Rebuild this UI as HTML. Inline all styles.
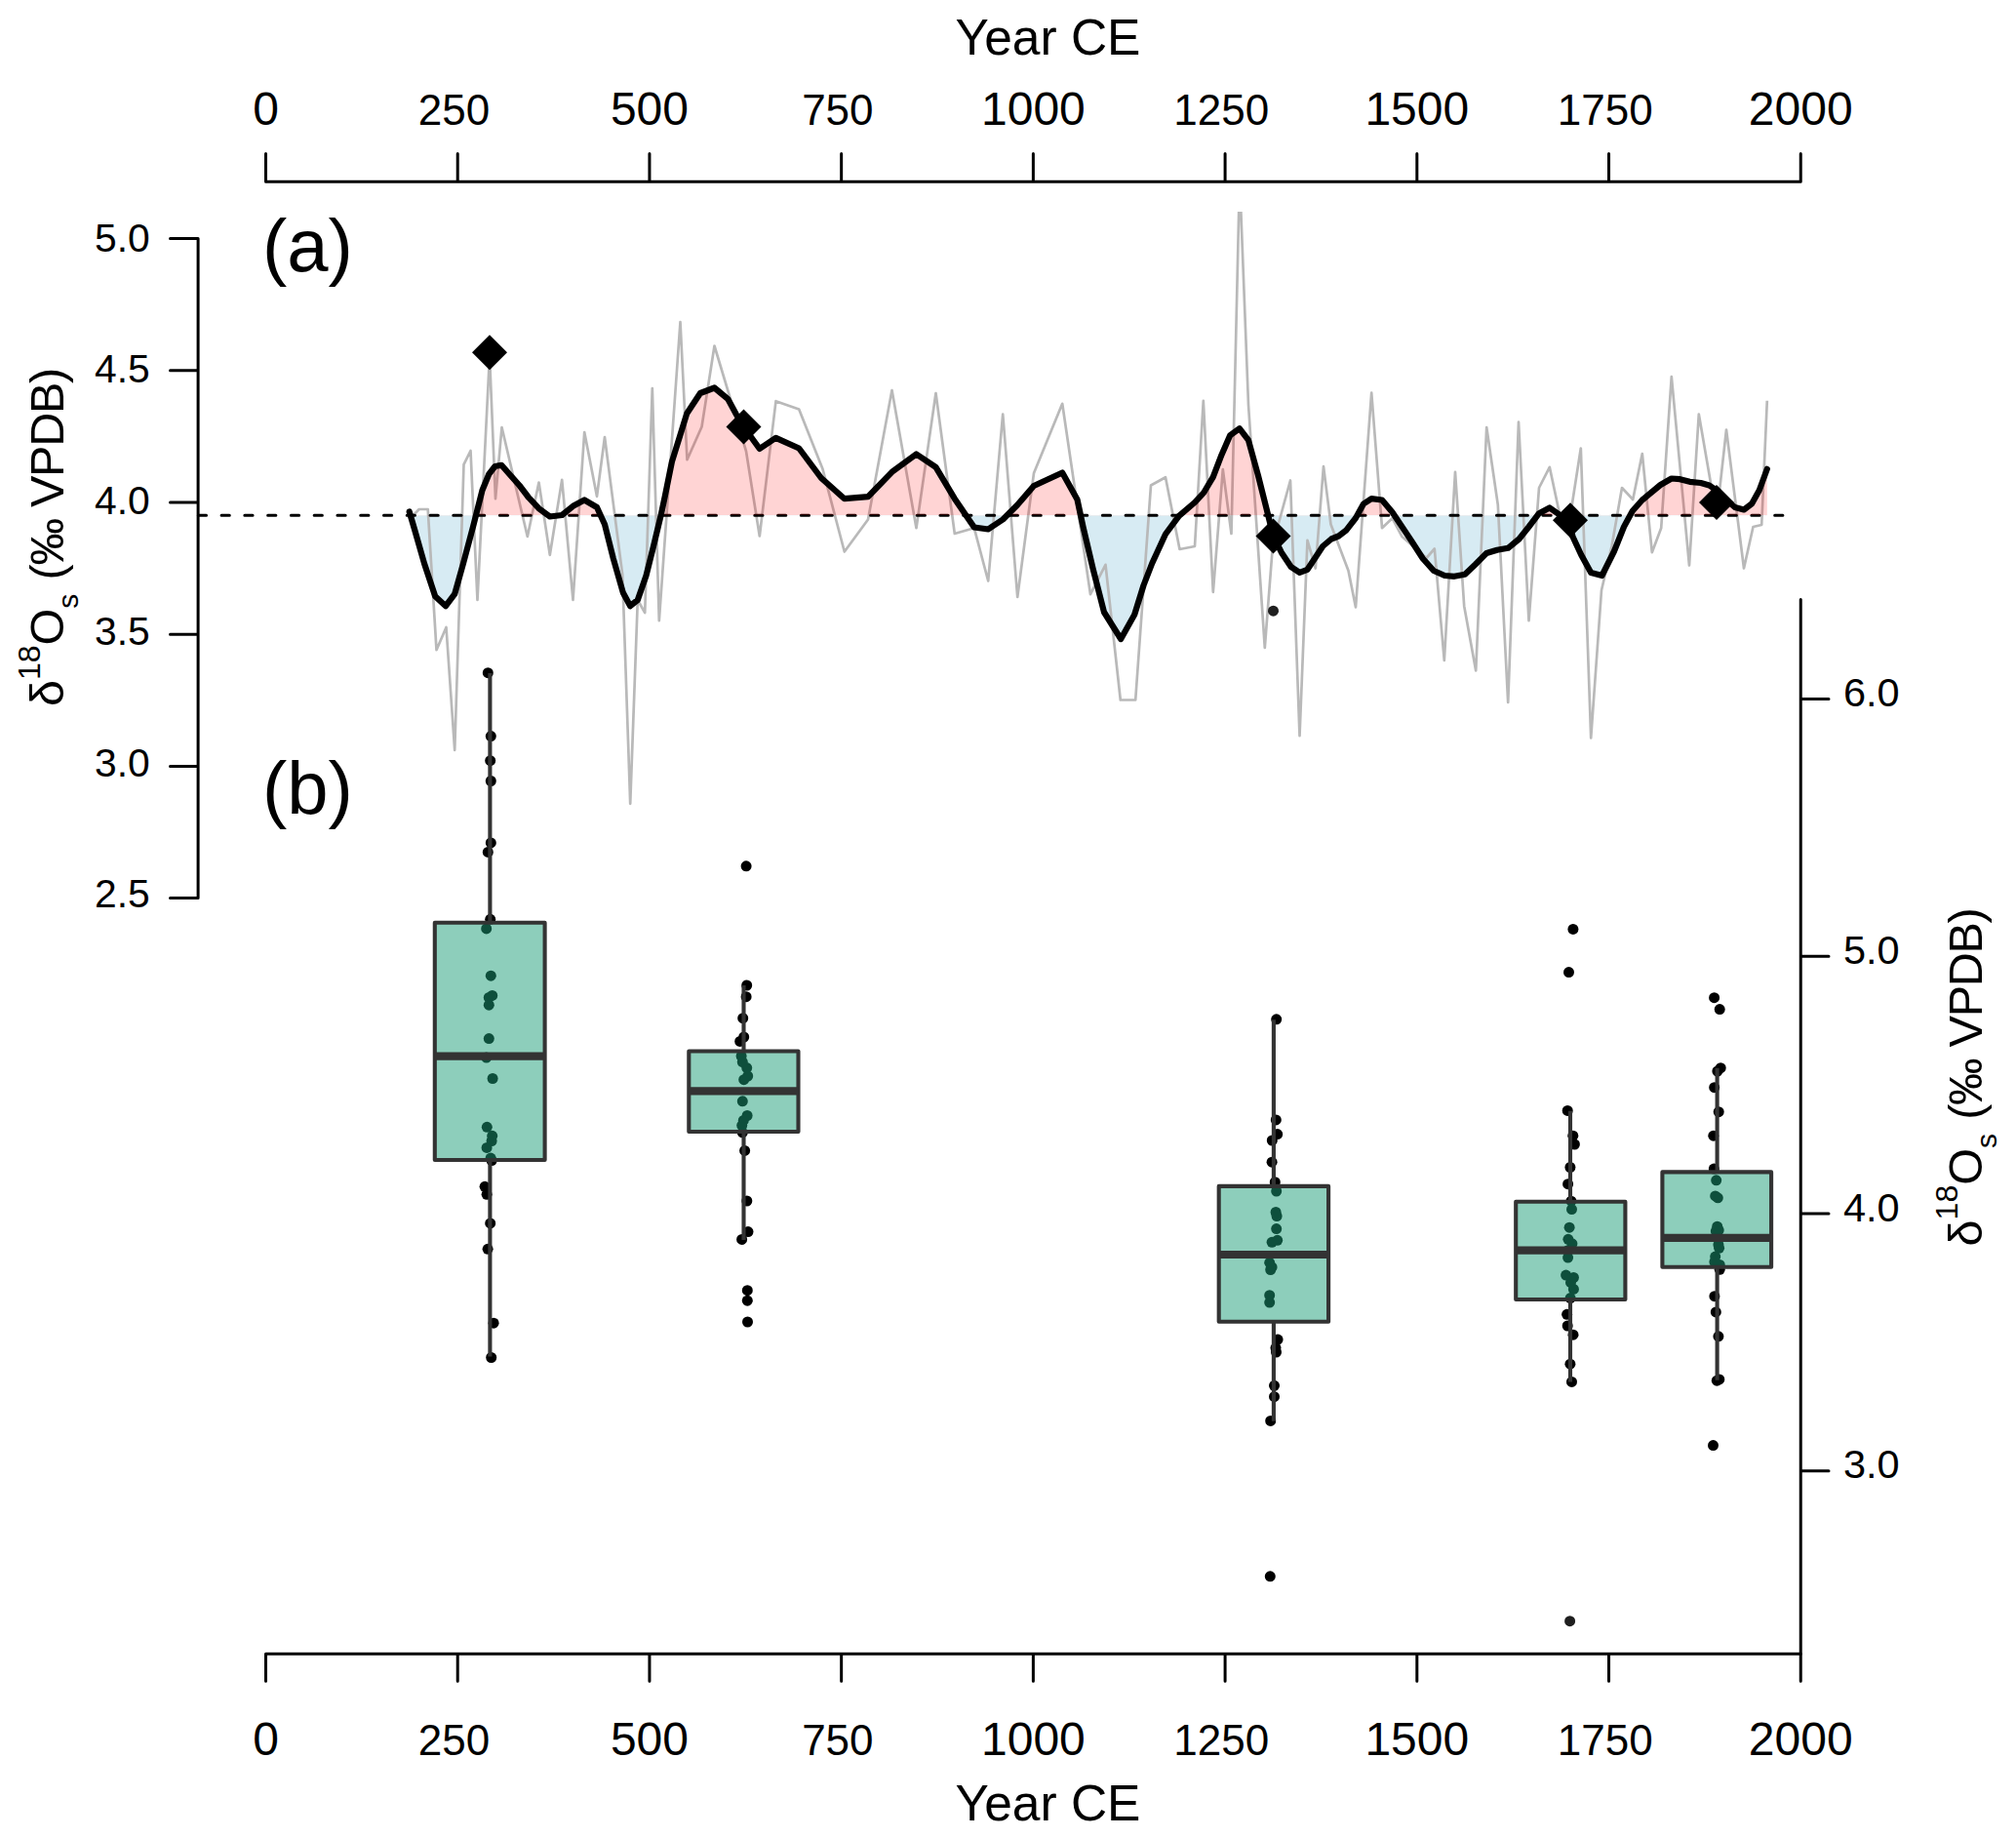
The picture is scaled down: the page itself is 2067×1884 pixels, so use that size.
<!DOCTYPE html>
<html lang="en"><head><meta charset="utf-8"><title>δ18O record and box plots</title>
<style>html,body{margin:0;padding:0;background:#fff}body{width:2067px;height:1884px;overflow:hidden}svg{display:block}</style>
</head><body>
<svg width="2067" height="1884" viewBox="0 0 2067 1884" font-family='"Liberation Sans", Arial, Helvetica, sans-serif' fill="#000">
<rect width="2067" height="1884" fill="#fff"/>
<defs><clipPath id="cu"><rect x="0" y="0" width="2067" height="528.25"/></clipPath><clipPath id="cd"><rect x="0" y="528.25" width="2067" height="400"/></clipPath><clipPath id="cg"><rect x="0" y="217" width="2067" height="700"/></clipPath></defs><polygon points="419.7,528.25 419.7,524.5 425.0,542.5 435.0,577.5 446.2,611.2 457.0,621.2 466.2,608.8 475.0,577.5 485.0,540.0 494.5,502.5 501.2,486.2 507.5,478.0 514.2,476.8 522.5,486.2 532.5,497.5 542.0,510.0 552.5,521.2 563.8,529.5 576.2,528.0 587.5,518.8 599.2,512.5 612.0,520.0 620.0,537.5 628.8,572.5 638.8,607.5 646.2,621.2 653.8,615.0 662.5,590.0 670.0,560.0 677.6,528.3 682.2,506.7 688.9,473.3 697.2,446.7 704.3,423.7 718.0,403.0 732.5,397.5 746.2,408.8 755.0,425.0 762.5,437.5 778.8,460.0 795.5,448.8 819.2,459.5 842.0,490.0 865.8,511.2 890.0,509.2 914.5,483.8 939.5,465.5 959.5,478.8 978.8,511.2 998.8,540.5 1013.2,542.5 1028.2,532.5 1043.2,517.5 1060.0,498.0 1089.2,484.5 1104.5,512.0 1110.5,540.0 1120.5,582.5 1132.0,627.5 1149.2,655.0 1163.2,630.0 1172.5,600.0 1181.2,577.5 1195.0,547.5 1208.8,528.8 1225.0,515.0 1234.2,505.0 1243.8,488.8 1252.5,466.2 1261.2,446.2 1270.8,439.2 1280.0,451.2 1290.0,487.5 1298.8,522.5 1305.5,549.5 1313.8,566.2 1323.8,581.2 1332.5,586.8 1340.5,583.8 1348.8,571.2 1356.2,560.0 1365.0,552.5 1372.5,549.5 1380.0,543.8 1390.0,531.0 1398.0,516.5 1406.2,511.2 1417.0,512.5 1427.5,525.0 1437.5,540.0 1447.5,555.0 1458.8,572.5 1470.0,585.0 1481.2,590.0 1491.2,590.8 1502.0,588.8 1512.5,578.8 1524.2,567.0 1535.0,563.8 1546.2,561.8 1557.5,552.5 1567.5,540.0 1578.0,526.2 1588.8,520.5 1598.8,527.5 1610.0,540.0 1612.5,550.0 1621.2,568.8 1631.2,587.0 1642.5,590.0 1655.0,565.0 1665.0,540.0 1673.8,523.8 1683.8,512.5 1702.5,497.0 1713.8,490.5 1722.5,491.2 1732.5,493.8 1743.8,495.0 1752.5,497.5 1760.0,502.5 1770.0,512.5 1778.8,520.0 1788.0,522.5 1796.2,516.2 1803.8,502.5 1811.8,480.8 1811.8,528.25" fill="#d7ebf3" clip-path="url(#cd)"/>
<polyline fill="none" stroke="#b9b9b9" stroke-width="2.7" stroke-linejoin="round" clip-path="url(#cg)" points="423.0,529.0 429.7,522.0 438.7,522.0 447.5,666.2 457.5,643.0 466.2,768.8 475.5,476.2 482.5,462.0 489.5,615.0 502.0,365.0 508.0,511.2 514.5,438.0 540.8,550.0 552.5,494.5 563.8,568.8 576.2,491.8 587.5,615.0 599.2,443.0 612.0,508.8 620.0,448.0 638.2,589.0 646.2,823.8 653.8,615.0 661.2,628.0 668.8,398.0 675.8,636.2 697.5,330.0 704.5,471.2 719.5,437.5 732.5,354.5 765.0,462.5 778.8,549.5 795.5,411.2 819.2,419.5 843.5,480.8 865.8,565.5 890.0,532.5 914.5,400.0 939.5,541.2 959.5,403.0 978.8,547.0 998.8,541.2 1013.2,595.5 1028.2,424.5 1043.2,612.0 1060.0,485.0 1089.2,413.8 1118.0,609.2 1133.5,578.8 1148.8,717.5 1164.2,717.5 1180.0,497.5 1195.0,489.2 1209.5,563.0 1225.0,560.0 1233.8,410.8 1243.8,606.8 1253.8,481.2 1262.5,547.0 1271.0,182.0 1280.0,415.0 1296.8,663.8 1305.0,558.0 1323.0,492.5 1332.5,754.2 1340.5,553.8 1348.8,582.5 1357.0,478.2 1364.5,537.5 1382.5,585.0 1390.0,622.5 1406.2,402.5 1417.0,541.2 1427.5,531.2 1437.5,550.0 1462.5,572.0 1470.8,562.5 1480.8,677.0 1492.0,483.8 1501.2,621.2 1513.2,687.5 1524.2,438.0 1535.8,517.5 1546.2,720.0 1557.0,432.5 1567.5,636.2 1578.0,500.0 1588.8,478.8 1599.7,530.0 1609.3,533.3 1620.8,459.5 1631.2,756.5 1642.0,605.0 1652.5,560.0 1663.0,500.0 1674.2,512.0 1683.8,465.0 1693.8,566.2 1703.2,541.2 1713.8,386.2 1732.0,579.5 1741.8,424.5 1760.0,530.0 1770.0,440.5 1788.0,582.5 1797.5,540.0 1806.2,538.0 1811.8,410.8"/>
<line x1="203.4" y1="528.25" x2="1830" y2="528.25" stroke="#000" stroke-width="3.2" stroke-linecap="round" stroke-dasharray="8.05 15.72"/>
<polygon points="419.7,528.25 419.7,524.5 425.0,542.5 435.0,577.5 446.2,611.2 457.0,621.2 466.2,608.8 475.0,577.5 485.0,540.0 494.5,502.5 501.2,486.2 507.5,478.0 514.2,476.8 522.5,486.2 532.5,497.5 542.0,510.0 552.5,521.2 563.8,529.5 576.2,528.0 587.5,518.8 599.2,512.5 612.0,520.0 620.0,537.5 628.8,572.5 638.8,607.5 646.2,621.2 653.8,615.0 662.5,590.0 670.0,560.0 677.6,528.3 682.2,506.7 688.9,473.3 697.2,446.7 704.3,423.7 718.0,403.0 732.5,397.5 746.2,408.8 755.0,425.0 762.5,437.5 778.8,460.0 795.5,448.8 819.2,459.5 842.0,490.0 865.8,511.2 890.0,509.2 914.5,483.8 939.5,465.5 959.5,478.8 978.8,511.2 998.8,540.5 1013.2,542.5 1028.2,532.5 1043.2,517.5 1060.0,498.0 1089.2,484.5 1104.5,512.0 1110.5,540.0 1120.5,582.5 1132.0,627.5 1149.2,655.0 1163.2,630.0 1172.5,600.0 1181.2,577.5 1195.0,547.5 1208.8,528.8 1225.0,515.0 1234.2,505.0 1243.8,488.8 1252.5,466.2 1261.2,446.2 1270.8,439.2 1280.0,451.2 1290.0,487.5 1298.8,522.5 1305.5,549.5 1313.8,566.2 1323.8,581.2 1332.5,586.8 1340.5,583.8 1348.8,571.2 1356.2,560.0 1365.0,552.5 1372.5,549.5 1380.0,543.8 1390.0,531.0 1398.0,516.5 1406.2,511.2 1417.0,512.5 1427.5,525.0 1437.5,540.0 1447.5,555.0 1458.8,572.5 1470.0,585.0 1481.2,590.0 1491.2,590.8 1502.0,588.8 1512.5,578.8 1524.2,567.0 1535.0,563.8 1546.2,561.8 1557.5,552.5 1567.5,540.0 1578.0,526.2 1588.8,520.5 1598.8,527.5 1610.0,540.0 1612.5,550.0 1621.2,568.8 1631.2,587.0 1642.5,590.0 1655.0,565.0 1665.0,540.0 1673.8,523.8 1683.8,512.5 1702.5,497.0 1713.8,490.5 1722.5,491.2 1732.5,493.8 1743.8,495.0 1752.5,497.5 1760.0,502.5 1770.0,512.5 1778.8,520.0 1788.0,522.5 1796.2,516.2 1803.8,502.5 1811.8,480.8 1811.8,528.25" fill="rgba(255,0,0,0.17)" clip-path="url(#cu)"/>
<polyline fill="none" stroke="#000" stroke-width="6.2" stroke-linejoin="round" stroke-linecap="round" points="419.7,524.5 425.0,542.5 435.0,577.5 446.2,611.2 457.0,621.2 466.2,608.8 475.0,577.5 485.0,540.0 494.5,502.5 501.2,486.2 507.5,478.0 514.2,476.8 522.5,486.2 532.5,497.5 542.0,510.0 552.5,521.2 563.8,529.5 576.2,528.0 587.5,518.8 599.2,512.5 612.0,520.0 620.0,537.5 628.8,572.5 638.8,607.5 646.2,621.2 653.8,615.0 662.5,590.0 670.0,560.0 677.6,528.3 682.2,506.7 688.9,473.3 697.2,446.7 704.3,423.7 718.0,403.0 732.5,397.5 746.2,408.8 755.0,425.0 762.5,437.5 778.8,460.0 795.5,448.8 819.2,459.5 842.0,490.0 865.8,511.2 890.0,509.2 914.5,483.8 939.5,465.5 959.5,478.8 978.8,511.2 998.8,540.5 1013.2,542.5 1028.2,532.5 1043.2,517.5 1060.0,498.0 1089.2,484.5 1104.5,512.0 1110.5,540.0 1120.5,582.5 1132.0,627.5 1149.2,655.0 1163.2,630.0 1172.5,600.0 1181.2,577.5 1195.0,547.5 1208.8,528.8 1225.0,515.0 1234.2,505.0 1243.8,488.8 1252.5,466.2 1261.2,446.2 1270.8,439.2 1280.0,451.2 1290.0,487.5 1298.8,522.5 1305.5,549.5 1313.8,566.2 1323.8,581.2 1332.5,586.8 1340.5,583.8 1348.8,571.2 1356.2,560.0 1365.0,552.5 1372.5,549.5 1380.0,543.8 1390.0,531.0 1398.0,516.5 1406.2,511.2 1417.0,512.5 1427.5,525.0 1437.5,540.0 1447.5,555.0 1458.8,572.5 1470.0,585.0 1481.2,590.0 1491.2,590.8 1502.0,588.8 1512.5,578.8 1524.2,567.0 1535.0,563.8 1546.2,561.8 1557.5,552.5 1567.5,540.0 1578.0,526.2 1588.8,520.5 1598.8,527.5 1610.0,540.0 1612.5,550.0 1621.2,568.8 1631.2,587.0 1642.5,590.0 1655.0,565.0 1665.0,540.0 1673.8,523.8 1683.8,512.5 1702.5,497.0 1713.8,490.5 1722.5,491.2 1732.5,493.8 1743.8,495.0 1752.5,497.5 1760.0,502.5 1770.0,512.5 1778.8,520.0 1788.0,522.5 1796.2,516.2 1803.8,502.5 1811.8,480.8"/>
<g fill="#000">
<circle cx="500.3" cy="689.7" r="5.5"/>
<circle cx="503.3" cy="754.6" r="5.5"/>
<circle cx="502.7" cy="779.7" r="5.5"/>
<circle cx="503.3" cy="800.5" r="5.5"/>
<circle cx="503.3" cy="863.9" r="5.5"/>
<circle cx="500.3" cy="873.4" r="5.5"/>
<circle cx="502.7" cy="942.3" r="5.5"/>
<circle cx="498.7" cy="951.9" r="5.5"/>
<circle cx="503.3" cy="1000.2" r="5.5"/>
<circle cx="504.7" cy="1020.4" r="5.5"/>
<circle cx="501.3" cy="1022.4" r="5.5"/>
<circle cx="501.3" cy="1030.2" r="5.5"/>
<circle cx="501.3" cy="1064.6" r="5.5"/>
<circle cx="498.7" cy="1084.0" r="5.5"/>
<circle cx="505.1" cy="1105.5" r="5.5"/>
<circle cx="499.3" cy="1155.3" r="5.5"/>
<circle cx="504.7" cy="1164.3" r="5.5"/>
<circle cx="504.1" cy="1169.5" r="5.5"/>
<circle cx="499.1" cy="1176.4" r="5.5"/>
<circle cx="503.1" cy="1187.1" r="5.5"/>
<circle cx="504.1" cy="1189.5" r="5.5"/>
<circle cx="497.1" cy="1216.3" r="5.5"/>
<circle cx="499.1" cy="1224.3" r="5.5"/>
<circle cx="502.7" cy="1253.9" r="5.5"/>
<circle cx="500.1" cy="1280.3" r="5.5"/>
<circle cx="506.1" cy="1356.2" r="5.5"/>
<circle cx="503.7" cy="1391.5" r="5.5"/>
<circle cx="765.1" cy="887.8" r="5.5"/>
<circle cx="765.7" cy="1010.0" r="5.5"/>
<circle cx="765.1" cy="1021.7" r="5.5"/>
<circle cx="761.7" cy="1043.7" r="5.5"/>
<circle cx="762.7" cy="1063.0" r="5.5"/>
<circle cx="758.7" cy="1067.4" r="5.5"/>
<circle cx="760.1" cy="1082.5" r="5.5"/>
<circle cx="761.3" cy="1088.6" r="5.5"/>
<circle cx="765.7" cy="1094.6" r="5.5"/>
<circle cx="766.7" cy="1103.0" r="5.5"/>
<circle cx="762.7" cy="1106.7" r="5.5"/>
<circle cx="761.3" cy="1128.8" r="5.5"/>
<circle cx="766.1" cy="1143.5" r="5.5"/>
<circle cx="762.3" cy="1148.4" r="5.5"/>
<circle cx="760.7" cy="1153.6" r="5.5"/>
<circle cx="761.3" cy="1160.8" r="5.5"/>
<circle cx="763.6" cy="1179.4" r="5.5"/>
<circle cx="765.8" cy="1231.0" r="5.5"/>
<circle cx="767.0" cy="1262.6" r="5.5"/>
<circle cx="760.6" cy="1270.4" r="5.5"/>
<circle cx="766.3" cy="1322.7" r="5.5"/>
<circle cx="766.3" cy="1333.2" r="5.5"/>
<circle cx="766.5" cy="1355.0" r="5.5"/>
<circle cx="1308.7" cy="1044.8" r="5.5"/>
<circle cx="1308.3" cy="1147.9" r="5.5"/>
<circle cx="1309.7" cy="1162.6" r="5.5"/>
<circle cx="1304.3" cy="1169.0" r="5.5"/>
<circle cx="1304.1" cy="1191.2" r="5.5"/>
<circle cx="1307.3" cy="1211.7" r="5.5"/>
<circle cx="1308.7" cy="1221.0" r="5.5"/>
<circle cx="1308.1" cy="1242.5" r="5.5"/>
<circle cx="1309.1" cy="1246.5" r="5.5"/>
<circle cx="1308.7" cy="1259.6" r="5.5"/>
<circle cx="1309.7" cy="1271.3" r="5.5"/>
<circle cx="1304.1" cy="1273.3" r="5.5"/>
<circle cx="1301.7" cy="1294.3" r="5.5"/>
<circle cx="1304.1" cy="1298.9" r="5.5"/>
<circle cx="1302.7" cy="1301.5" r="5.5"/>
<circle cx="1301.7" cy="1327.7" r="5.5"/>
<circle cx="1301.7" cy="1335.1" r="5.5"/>
<circle cx="1310.1" cy="1373.1" r="5.5"/>
<circle cx="1308.0" cy="1381.6" r="5.5"/>
<circle cx="1308.5" cy="1386.0" r="5.5"/>
<circle cx="1306.5" cy="1420.3" r="5.5"/>
<circle cx="1306.5" cy="1431.7" r="5.5"/>
<circle cx="1302.7" cy="1456.4" r="5.5"/>
<circle cx="1302.3" cy="1615.8" r="5.5"/>
<circle cx="1607.2" cy="1138.4" r="5.5"/>
<circle cx="1612.8" cy="1164.2" r="5.5"/>
<circle cx="1614.4" cy="1173.0" r="5.5"/>
<circle cx="1609.9" cy="1196.5" r="5.5"/>
<circle cx="1607.6" cy="1213.7" r="5.5"/>
<circle cx="1610.9" cy="1231.2" r="5.5"/>
<circle cx="1611.5" cy="1239.6" r="5.5"/>
<circle cx="1609.1" cy="1258.2" r="5.5"/>
<circle cx="1607.9" cy="1270.3" r="5.5"/>
<circle cx="1611.9" cy="1274.8" r="5.5"/>
<circle cx="1607.6" cy="1281.7" r="5.5"/>
<circle cx="1607.6" cy="1289.1" r="5.5"/>
<circle cx="1605.6" cy="1307.1" r="5.5"/>
<circle cx="1613.4" cy="1309.5" r="5.5"/>
<circle cx="1610.5" cy="1314.6" r="5.5"/>
<circle cx="1613.4" cy="1321.4" r="5.5"/>
<circle cx="1610.1" cy="1330.6" r="5.5"/>
<circle cx="1606.6" cy="1347.3" r="5.5"/>
<circle cx="1607.2" cy="1359.0" r="5.5"/>
<circle cx="1613.0" cy="1368.2" r="5.5"/>
<circle cx="1609.9" cy="1398.2" r="5.5"/>
<circle cx="1611.5" cy="1416.4" r="5.5"/>
<circle cx="1612.9" cy="952.4" r="5.5"/>
<circle cx="1608.5" cy="996.6" r="5.5"/>
<circle cx="1764.2" cy="1094.7" r="5.5"/>
<circle cx="1760.9" cy="1098.0" r="5.5"/>
<circle cx="1757.7" cy="1114.7" r="5.5"/>
<circle cx="1762.2" cy="1139.7" r="5.5"/>
<circle cx="1756.8" cy="1164.2" r="5.5"/>
<circle cx="1757.3" cy="1198.1" r="5.5"/>
<circle cx="1759.7" cy="1209.8" r="5.5"/>
<circle cx="1758.7" cy="1225.9" r="5.5"/>
<circle cx="1761.3" cy="1227.8" r="5.5"/>
<circle cx="1760.7" cy="1257.2" r="5.5"/>
<circle cx="1762.2" cy="1261.1" r="5.5"/>
<circle cx="1759.3" cy="1262.1" r="5.5"/>
<circle cx="1761.9" cy="1275.8" r="5.5"/>
<circle cx="1762.6" cy="1279.3" r="5.5"/>
<circle cx="1758.7" cy="1288.1" r="5.5"/>
<circle cx="1757.9" cy="1293.4" r="5.5"/>
<circle cx="1763.2" cy="1296.4" r="5.5"/>
<circle cx="1763.2" cy="1301.3" r="5.5"/>
<circle cx="1757.9" cy="1328.7" r="5.5"/>
<circle cx="1759.3" cy="1344.9" r="5.5"/>
<circle cx="1761.9" cy="1369.8" r="5.5"/>
<circle cx="1760.3" cy="1415.2" r="5.5"/>
<circle cx="1762.8" cy="1413.9" r="5.5"/>
<circle cx="1757.6" cy="1022.7" r="5.5"/>
<circle cx="1763.2" cy="1034.6" r="5.5"/>
<circle cx="1756.5" cy="1481.6" r="5.5"/>
</g>
<g fill="#1f1f1f"><circle cx="1305.5" cy="626.2" r="5.5"/><circle cx="1609.6" cy="1661.7" r="5.5"/></g>
<path d="M502.4 690.0V945.8M502.4 1189.0V1390.4" stroke="#333333" stroke-width="4.1" fill="none"/>
<rect x="445.8" y="945.8" width="112.8" height="243.2" fill="#1b9e77" fill-opacity="0.5" stroke="#333333" stroke-width="4.1" stroke-linejoin="round"/>
<line x1="445.8" y1="1082.7" x2="558.6" y2="1082.7" stroke="#333333" stroke-width="8.2"/>
<path d="M762.5 1010.0V1077.5M762.5 1160.0V1271.0" stroke="#333333" stroke-width="4.1" fill="none"/>
<rect x="706.3" y="1077.5" width="112.2" height="82.5" fill="#1b9e77" fill-opacity="0.5" stroke="#333333" stroke-width="4.1" stroke-linejoin="round"/>
<line x1="706.3" y1="1118.3" x2="818.5" y2="1118.3" stroke="#333333" stroke-width="8.2"/>
<path d="M1305.9 1045.2V1215.9M1305.9 1354.7V1456.7" stroke="#333333" stroke-width="4.1" fill="none"/>
<rect x="1249.7" y="1215.9" width="112.4" height="138.8" fill="#1b9e77" fill-opacity="0.5" stroke="#333333" stroke-width="4.1" stroke-linejoin="round"/>
<line x1="1249.7" y1="1286.0" x2="1362.1" y2="1286.0" stroke="#333333" stroke-width="8.2"/>
<path d="M1610.0 1138.7V1231.7M1610.0 1332.0V1416.4" stroke="#333333" stroke-width="4.1" fill="none"/>
<rect x="1554.2" y="1231.7" width="112.2" height="100.3" fill="#1b9e77" fill-opacity="0.5" stroke="#333333" stroke-width="4.1" stroke-linejoin="round"/>
<line x1="1554.2" y1="1281.7" x2="1666.4" y2="1281.7" stroke="#333333" stroke-width="8.2"/>
<path d="M1760.6 1094.7V1201.4M1760.6 1298.7V1414.8" stroke="#333333" stroke-width="4.1" fill="none"/>
<rect x="1704.4" y="1201.4" width="111.7" height="97.3" fill="#1b9e77" fill-opacity="0.5" stroke="#333333" stroke-width="4.1" stroke-linejoin="round"/>
<line x1="1704.4" y1="1268.8" x2="1816.1" y2="1268.8" stroke="#333333" stroke-width="8.2"/>
<polygon points="484,361.3 502,343.3 520,361.3 502,379.3" fill="#000"/>
<polygon points="744.5,437.5 762.5,419.5 780.5,437.5 762.5,455.5" fill="#000"/>
<polygon points="1287.5,549.5 1305.5,531.5 1323.5,549.5 1305.5,567.5" fill="#000"/>
<polygon points="1592,533.25 1610,515.25 1628,533.25 1610,551.25" fill="#000"/>
<polygon points="1742,515 1760,497 1778,515 1760,533" fill="#000"/>
<path stroke="#000" stroke-width="3" stroke-linecap="round" fill="none" d="M272.5 186.3H1846.25M272.50 186.3V157.6M469.22 186.3V157.6M665.94 186.3V157.6M862.66 186.3V157.6M1059.38 186.3V157.6M1256.09 186.3V157.6M1452.81 186.3V157.6M1649.53 186.3V157.6M1846.25 186.3V157.6"/>
<path stroke="#000" stroke-width="3" stroke-linecap="round" fill="none" d="M272.5 1695.25H1846.25M272.50 1695.25V1723.2M469.22 1695.25V1723.2M665.94 1695.25V1723.2M862.66 1695.25V1723.2M1059.38 1695.25V1723.2M1256.09 1695.25V1723.2M1452.81 1695.25V1723.2M1649.53 1695.25V1723.2M1846.25 1695.25V1723.2"/>
<path stroke="#000" stroke-width="3" stroke-linecap="round" fill="none" d="M203.1 244.5V920.6M203.1 244.50H174.5M203.1 379.72H174.5M203.1 514.94H174.5M203.1 650.16H174.5M203.1 785.38H174.5M203.1 920.60H174.5"/>
<path stroke="#000" stroke-width="3" stroke-linecap="round" fill="none" d="M1846.25 614.5V1695.25M1846.25 716.60H1875M1846.25 980.30H1875M1846.25 1244.00H1875M1846.25 1507.70H1875"/>
<text x="272.50" y="127.5" font-size="48" text-anchor="middle">0</text>
<text x="272.50" y="1798.5" font-size="48" text-anchor="middle">0</text>
<text x="465.42" y="127.5" font-size="44" text-anchor="middle">250</text>
<text x="465.42" y="1798.5" font-size="44" text-anchor="middle">250</text>
<text x="665.94" y="127.5" font-size="48" text-anchor="middle">500</text>
<text x="665.94" y="1798.5" font-size="48" text-anchor="middle">500</text>
<text x="858.86" y="127.5" font-size="44" text-anchor="middle">750</text>
<text x="858.86" y="1798.5" font-size="44" text-anchor="middle">750</text>
<text x="1059.38" y="127.5" font-size="48" text-anchor="middle">1000</text>
<text x="1059.38" y="1798.5" font-size="48" text-anchor="middle">1000</text>
<text x="1252.29" y="127.5" font-size="44" text-anchor="middle">1250</text>
<text x="1252.29" y="1798.5" font-size="44" text-anchor="middle">1250</text>
<text x="1452.81" y="127.5" font-size="48" text-anchor="middle">1500</text>
<text x="1452.81" y="1798.5" font-size="48" text-anchor="middle">1500</text>
<text x="1645.73" y="127.5" font-size="44" text-anchor="middle">1750</text>
<text x="1645.73" y="1798.5" font-size="44" text-anchor="middle">1750</text>
<text x="1846.25" y="127.5" font-size="48" text-anchor="middle">2000</text>
<text x="1846.25" y="1798.5" font-size="48" text-anchor="middle">2000</text>
<text x="153.8" y="257.60" font-size="40.8" text-anchor="end">5.0</text>
<text x="153.8" y="392.10" font-size="40.8" text-anchor="end">4.5</text>
<text x="153.8" y="526.60" font-size="40.8" text-anchor="end">4.0</text>
<text x="153.8" y="661.10" font-size="40.8" text-anchor="end">3.5</text>
<text x="153.8" y="795.60" font-size="40.8" text-anchor="end">3.0</text>
<text x="153.8" y="930.10" font-size="40.8" text-anchor="end">2.5</text>
<text x="1890.0" y="724.20" font-size="41.5">6.0</text>
<text x="1890.0" y="987.90" font-size="41.5">5.0</text>
<text x="1890.0" y="1251.60" font-size="41.5">4.0</text>
<text x="1890.0" y="1515.30" font-size="41.5">3.0</text>
<text x="1074.5" y="55.5" font-size="51.5" text-anchor="middle">Year CE</text>
<text x="1074.5" y="1865.75" font-size="51.5" text-anchor="middle">Year CE</text>
<text x="269" y="278.3" font-size="76">(a)</text>
<text x="269" y="834.2" font-size="76">(b)</text>
<text transform="translate(65.0 724.0) rotate(-90)" font-size="48.5">δ<tspan font-size="32" dy="-24.5">18</tspan><tspan dy="24.5">O</tspan><tspan font-size="30" dy="15.4">s</tspan><tspan dy="-15.4" dx="2" letter-spacing="-1.25"> (‰ VPDB)</tspan></text>
<text transform="translate(2031.5 1277.4) rotate(-90)" font-size="48.5">δ<tspan font-size="32" dy="-24.5">18</tspan><tspan dy="24.5">O</tspan><tspan font-size="30" dy="15.4">s</tspan><tspan dy="-15.4" dx="2" letter-spacing="-1.25"> (‰ VPDB)</tspan></text>
</svg>
</body></html>
